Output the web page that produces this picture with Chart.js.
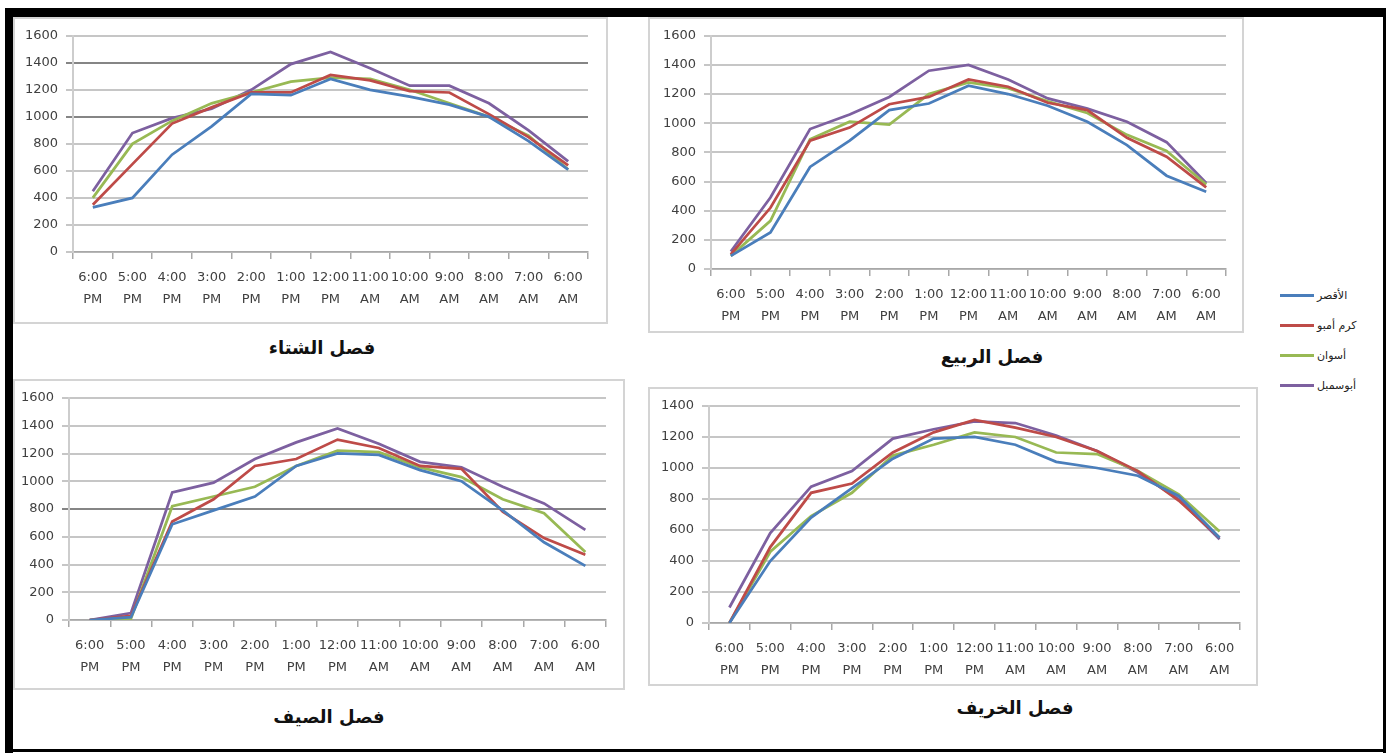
<!DOCTYPE html>
<html>
<head>
<meta charset="utf-8">
<script src="https://cdn.jsdelivr.net/npm/chart.js@4.4.1/dist/chart.umd.min.js"></script>
<style>
  html, body { margin: 0; padding: 0; background: #fff; }
  body { width: 1386px; height: 753px; position: relative; overflow: hidden; font-family: "DejaVu Sans", sans-serif; }
  .abs { position: absolute; }
  .black { position: absolute; background: #000; }
  .box { position: absolute; border: 2px solid #d4d4d4; box-sizing: border-box; pointer-events: none; }
  .title { position: absolute; font-weight: bold; font-size: 18px; color: #111; direction: rtl; white-space: nowrap; transform: translate(-50%, -50%); }
  #legend { position: absolute; left: 1280px; top: 280px; }
  .leg { display: flex; align-items: center; height: 30px; direction: ltr; }
  .leg span.line { display: inline-block; width: 34px; height: 3px; margin-right: 3px; }
  .leg span.txt { font-size: 11px; color: #222; direction: rtl; }
</style>
</head>
<body>

<canvas id="winter" class="abs"></canvas>
<canvas id="spring" class="abs"></canvas>
<canvas id="summer" class="abs"></canvas>
<canvas id="autumn" class="abs"></canvas>
<div id="legend"></div>

<script>
// categories (hour of day, right to left in the original)
const timeLabels = ['6:00 PM', '5:00 PM', '4:00 PM', '3:00 PM', '2:00 PM', '1:00 PM', '12:00 PM',
                    '11:00 AM', '10:00 AM', '9:00 AM', '8:00 AM', '7:00 AM', '6:00 AM'];
const stationNames = ['الأقصر', 'كرم أمبو', 'أسوان', 'أبوسمبل'];
const stationColors = ['#4A7EBB', '#BE4B48', '#98B954', '#7D60A0'];
const seasonTitles = ['فصل الشتاء', 'فصل الربيع', 'فصل الصيف', 'فصل الخريف'];

// winter
const winterLuxor     = [330, 400, 720, 930, 1170, 1160, 1280, 1200, 1150, 1090, 1000, 820, 610];
const winterKomOmbo   = [350, 650, 950, 1070, 1180, 1180, 1310, 1270, 1190, 1180, 1020, 850, 640];
const winterAswan     = [400, 800, 970, 1100, 1180, 1260, 1290, 1280, 1200, 1100, 1000, 860, 610];
const winterAbuSimbel = [450, 880, 990, 1060, 1200, 1390, 1480, 1360, 1230, 1230, 1100, 900, 670];

// spring
const springLuxor     = [90, 250, 700, 880, 1090, 1135, 1257, 1200, 1120, 1010, 850, 640, 530];
const springKomOmbo   = [100, 420, 880, 970, 1130, 1180, 1300, 1250, 1140, 1090, 900, 770, 560];
const springAswan     = [90, 330, 890, 1010, 990, 1200, 1280, 1240, 1150, 1070, 920, 810, 580];
const springAbuSimbel = [120, 490, 960, 1060, 1180, 1360, 1400, 1300, 1170, 1100, 1010, 870, 590];

// summer
const summerLuxor     = [0, 20, 690, 790, 890, 1110, 1200, 1190, 1080, 1000, 790, 560, 390];
const summerKomOmbo   = [0, 30, 710, 870, 1110, 1160, 1300, 1240, 1110, 1090, 780, 590, 470];
const summerAswan     = [0, 10, 820, 890, 960, 1110, 1220, 1210, 1100, 1030, 870, 770, 490];
const summerAbuSimbel = [0, 50, 920, 990, 1160, 1280, 1380, 1270, 1140, 1100, 960, 840, 650];

// autumn
const autumnLuxor     = [0, 400, 680, 870, 1060, 1190, 1200, 1150, 1040, 1000, 950, 820, 550];
const autumnKomOmbo   = [0, 490, 840, 900, 1100, 1230, 1310, 1260, 1200, 1110, 980, 790, 550];
const autumnAswan     = [0, 460, 690, 840, 1080, 1150, 1230, 1200, 1100, 1090, 980, 830, 590];
const autumnAbuSimbel = [100, 580, 880, 980, 1190, 1250, 1300, 1290, 1210, 1110, 970, 800, 540];

const yMaxNormal = 1600;
const yMaxAutumn = 1400;
const yStep = 200;

// frame around the whole figure
function addDiv(cls, l, t, w, h, txt) {
  const d = document.createElement('div');
  d.className = cls;
  d.style.left = l + 'px'; d.style.top = t + 'px';
  if (w != null) d.style.width = w + 'px';
  if (h != null) d.style.height = h + 'px';
  if (txt) d.textContent = txt;
  document.body.appendChild(d);
  return d;
}
addDiv('black', 5, 8, 1381, 9);
addDiv('black', 5, 8, 8, 745);
addDiv('black', 1383, 8, 3, 745);
addDiv('black', 5, 749, 1381, 3);

const multiLabels = timeLabels.map(s => s.split(' '));
const tickFont = { family: 'DejaVu Sans', size: 13, lineHeight: 1.65 };
const xAxisH = 56;

function makeChart(id, series, yMax, darkLines, box, plot) {
  const cv = document.getElementById(id);
  cv.width = box.w; cv.height = box.h;
  cv.style.left = box.x + 'px'; cv.style.top = box.y + 'px';

  new Chart(cv, {
    type: 'line',
    data: {
      labels: multiLabels,
      datasets: series.map((vals, i) => ({
        label: stationNames[i],
        data: vals,
        borderColor: stationColors[i],
        backgroundColor: stationColors[i],
        borderWidth: 2.75,
        pointRadius: 0,
        tension: 0
      }))
    },
    options: {
      responsive: false,
      animation: false,
      devicePixelRatio: 1,
      layout: {
        padding: {
          left: 0,
          top: plot.t - box.y,
          right: box.x + box.w - plot.r,
          bottom: box.y + box.h - plot.b - xAxisH
        }
      },
      plugins: { legend: { display: false }, tooltip: { enabled: false } },
      scales: {
        x: {
          offset: true,
          grid: { offset: true, drawOnChartArea: false, drawTicks: true, tickLength: 7, color: '#a8a8a8', lineWidth: 1.5 },
          border: { display: true, color: '#a8a8a8', width: 1.5 },
          ticks: { font: tickFont, color: '#404040', autoSkip: false, maxRotation: 0, minRotation: 0, padding: 8 },
          afterFit: s => { s.height = xAxisH; }
        },
        y: {
          min: 0, max: yMax,
          grid: {
            drawTicks: true, tickLength: 7, lineWidth: 2,
            color: c => darkLines.includes(c.tick.value) ? '#858585' : '#c6c6c6'
          },
          border: { display: true, color: '#cdcdcd', width: 2 },
          ticks: { stepSize: yStep, font: tickFont, color: '#404040', padding: 8, callback: v => String(v) },
          afterFit: s => { s.width = plot.l - box.x; }
        }
      }
    }
  });
  addDiv('box', box.x, box.y, box.w, box.h);
}

makeChart('winter', [winterLuxor, winterKomOmbo, winterAswan, winterAbuSimbel], yMaxNormal, [1000, 1400],
  { x: 13, y: 17, w: 595, h: 307 }, { l: 73, t: 33, r: 588, b: 252 });
makeChart('spring', [springLuxor, springKomOmbo, springAswan, springAbuSimbel], yMaxNormal, [],
  { x: 648, y: 17, w: 596, h: 316 }, { l: 711, t: 28, r: 1226, b: 269 });
makeChart('summer', [summerLuxor, summerKomOmbo, summerAswan, summerAbuSimbel], yMaxNormal, [800],
  { x: 13, y: 379, w: 612, h: 311 }, { l: 69, t: 398, r: 606, b: 620 });
makeChart('autumn', [autumnLuxor, autumnKomOmbo, autumnAswan, autumnAbuSimbel], yMaxAutumn, [],
  { x: 648, y: 387, w: 610, h: 299 }, { l: 709, t: 406, r: 1240, b: 623 });

// season titles under each panel
const titlePos = [[322, 347], [992, 356], [329, 716], [1015, 707]];
seasonTitles.forEach((t, i) => {
  addDiv('title', titlePos[i][0], titlePos[i][1], null, null, t);
});

// shared legend
const legend = document.getElementById('legend');
stationNames.forEach((n, i) => {
  const row = document.createElement('div');
  row.className = 'leg';
  row.innerHTML = '<span class="line" style="background:' + stationColors[i] + '"></span><span class="txt">' + n + '</span>';
  legend.appendChild(row);
});
</script>
</body>
</html>
